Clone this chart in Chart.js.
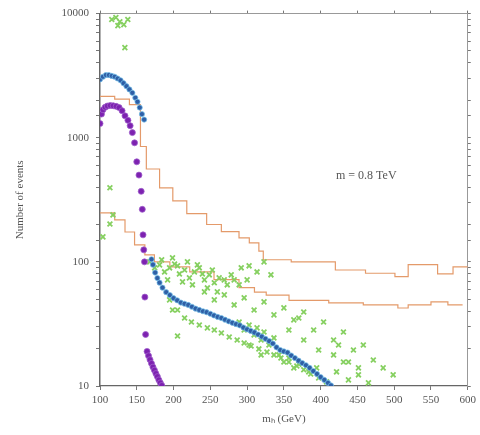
<!DOCTYPE html>
<html><head><meta charset="utf-8">
<script src="https://cdn.jsdelivr.net/npm/chart.js@4"></script>
<style>html,body{margin:0;padding:0;background:#fff}#c{display:block}</style>
</head><body>
<canvas id="c" width="480" height="435"></canvas>
<script>
const xTicks = [100,150,200,250,300,350,400,450,500,550,600];
const yTicks = [10,100,1000,10000];

const purpleX = [100,102,104,107,110,114,118,122,126,130,134,138,141,144,147,150,153,156,157.5,158.5,159.5,160.5,161,162,164,166,168,170,172,174,176,178,180,182,184];
const purpleY = [1300,1550,1680,1760,1800,1820,1810,1790,1750,1650,1500,1380,1250,1100,910,640,500,370,265,165,125,100,52,26,19,17.5,16.3,15.2,14.2,13.4,12.6,11.9,11.2,10.6,10.1];

const blueX = [100,104,108,112,116,120,124,128,132,136,140,144,148,151,154,157,160,
  170,172,175,178,181,185,190,195,200,205,210,215,220,225,230,235,240,245,250,255,260,265,270,275,280,285,290,295,300,305,310,315,320,325,330,335,340,345,350,355,360,365,370,375,380,385,390,395,400,405,410,414];
const blueY = [2950,3100,3200,3200,3150,3100,3000,2900,2750,2600,2450,2300,2100,1950,1750,1550,1400,
  105,95,82,74,68,62,57,54,51,49,47,46,45,43.5,42,41,40,39.3,38.2,37,36,35.3,34.2,33.2,32.3,31.5,30.8,29.6,28.6,27.8,27,26,25,24,23,22,20.5,19.5,19,18.6,17.6,16.8,16,15.3,14.7,14,13.2,12.5,11.8,11.2,10.6,10.1];

const greenX = [116,121.6,127,132.4,137.8,124.3,133.8,
  113.5,117.6,104,113.5,
  167.6,174.3,181,187.8,194.6,201.4,208,215,221.6,228.4,235,242,248.6,255.4,262,273,282.4,292,302.7,313.5,323,332.4,
  183.8,191.9,198.6,205.4,212.2,218.9,225.7,232.4,239.2,246,252.7,259.5,268.9,278.4,289.2,300,
  242,255.4,269,282.4,296,309.5,323,336.5,350,363.5,377,390.5,404,417.6,431,444.6,458,471.6,485,498.6,
  356.8,377,397.3,417.6,437.8,370.3,424.3,451.4,
  194.6,205.4,215,224.3,235,246,255.4,265,275.7,286.5,296,305.4,316,327,336.5,346,356.8,367.6,377,386.5,397.3,408,
  289.2,296,302.7,309.5,313.5,319,323,329.7,336.5,343.3,350,356.8,363.5,370.3,383.8,394.6,302.7,319,
  421.6,437.8,451.4,465,431,205.4,198.6];
const greenY = [8950,9290,8610,8150,8950,8000,5320,
  395,239,159,202,
  100,89.5,94.6,83,89.5,96,80,86.1,74.3,83,89.5,71.6,78.6,67.8,74.3,65.3,71.6,89.5,92.9,83,100,78.6,
  103.8,71.6,107.7,92.9,69,100,65.3,94.6,80,61.7,86.1,57.3,71.6,78.6,65.3,71.6,
  57.3,49.4,54.2,45,51.3,41,47.6,37.4,42.6,34.1,39.5,28.3,32.8,23.5,27.2,19.5,21.4,16.2,14,12.3,
  28.3,23.5,19.5,17.8,15.6,35.3,21.4,12.3,
  49.4,41,35.3,32.8,31,29.4,28.3,26.7,24.8,23.5,22.2,21,19.9,18.8,17.8,16.8,15.6,14.5,13.5,12.5,11.6,10.8,
  32.8,28.3,31,25.8,29.4,23.5,27.2,21.4,24.4,17.8,15.6,16.8,14,15,13,14,21.4,17.8,
  13,11.2,14,10.6,15.6,25.3,41];

const upperX = [100,120,140,155,163,181,199,218,245,265,289,303,316,322,360,420,461,501,519,559,580,600];
const upperY = [2150,2050,1850,850,560,395,310,245,200,175,156,142,122,104,100,86,81,76,95,80,91,91];

const lowerX = [100,120,134,147,161,174,195,222,255,289,310,326,357,411,458,505,519,550,573,593];
const lowerY = [248,218,174,137,114,100,91,83,72,62,57,54,49,46.7,45,42.5,45,47.6,45,45];

const annotationText = 'm = 0.8 TeV';
const annotationAt = {x: 462, y: 494};

const zip = (xs, ys) => xs.map((x, i) => ({x, y: ys[i]}));
const serif = 'Liberation Serif';
const txt = '#555';
const axisCol = '#777';

const labelPlugin = {
  id: 'label',
  afterDatasetsDraw(chart) {
    const {ctx, scales} = chart;
    ctx.save();
    ctx.font = '12px "' + serif + '"';
    ctx.fillStyle = '#555';
    ctx.textAlign = 'center';
    ctx.textBaseline = 'middle';
    ctx.fillText(annotationText, scales.x.getPixelForValue(annotationAt.x), scales.y.getPixelForValue(annotationAt.y));
    ctx.restore();
  }
};

const setXTicks = s => { s.ticks = xTicks.map(v => ({value: v})); };

new Chart(document.getElementById('c'), {
  type: 'scatter',
  data: {
    datasets: [
      {label: 'purple', data: zip(purpleX, purpleY), pointRadius: 3, pointBackgroundColor: '#7d22b0', pointBorderColor: '#a060cc', pointBorderWidth: 0.8},
      {label: 'blue', data: zip(blueX, blueY), pointRadius: 2.6, pointBackgroundColor: '#2f5fa6', pointBorderColor: 'rgba(120,195,235,0.9)', pointBorderWidth: 0.8},
      {label: 'green', data: zip(greenX, greenY), pointStyle: 'crossRot', pointRadius: 3.4, pointBorderColor: '#86d060', pointBorderWidth: 1.8},
      {label: 'upper', type: 'line', data: zip(upperX, upperY), stepped: true, borderColor: '#e49a6a', borderWidth: 1.2, pointRadius: 0, fill: false},
      {label: 'lower', type: 'line', data: zip(lowerX, lowerY), stepped: true, borderColor: '#e49a6a', borderWidth: 1.2, pointRadius: 0, fill: false}
    ]
  },
  options: {
    responsive: false,
    animation: false,
    devicePixelRatio: 1,
    layout: {padding: 0},
    plugins: {legend: {display: false}, tooltip: {enabled: false}},
    scales: {
      x: {
        type: 'linear', position: 'bottom', min: 100, max: 600,
        afterBuildTicks: setXTicks,
        afterFit: s => { s.height = 49; },
        grid: {drawOnChartArea: false, tickLength: 4, color: axisCol},
        border: {color: '#666', width: 1.2},
        ticks: {font: {family: serif, size: 11}, color: txt, padding: 4, maxRotation: 0, autoSkip: false},
        title: {display: true, text: 'mₕ (GeV)', font: {family: serif, size: 11}, color: txt, padding: {top: 0, bottom: 9}}
      },
      x2: {
        type: 'linear', position: 'top', min: 100, max: 600,
        afterBuildTicks: setXTicks,
        afterFit: s => { s.height = 13; },
        grid: {drawOnChartArea: false, tickLength: 3, color: axisCol},
        border: {color: '#999', width: 1},
        ticks: {display: false}
      },
      y: {
        type: 'logarithmic', position: 'left', min: 10, max: 10000,
        afterFit: s => { s.width = 100; },
        grid: {drawOnChartArea: false, tickLength: 4, color: axisCol},
        border: {color: '#666', width: 1.5},
        ticks: {font: {family: serif, size: 11}, color: txt, padding: 7, autoSkip: false,
          callback: v => yTicks.includes(v) ? String(v) : ''},
        title: {display: true, text: 'Number of events', font: {family: serif, size: 11}, color: txt, padding: {top: 14, bottom: 0}}
      },
      y2: {
        type: 'logarithmic', position: 'right', min: 10, max: 10000,
        afterFit: s => { s.width = 10; },
        grid: {drawOnChartArea: false, tickLength: 3, color: axisCol},
        border: {color: '#999', width: 1},
        ticks: {display: false}
      }
    }
  },
  plugins: [labelPlugin]
});
</script>
</body></html>
